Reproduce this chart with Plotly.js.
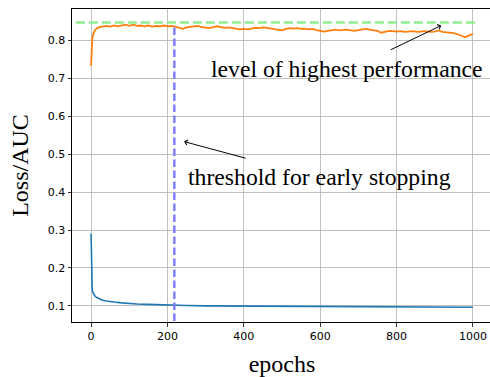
<!DOCTYPE html>
<html>
<head>
<meta charset="utf-8">
<script src="https://cdn.plot.ly/plotly-3.0.1.min.js"></script>
<style>
html,body{margin:0;padding:0;overflow:hidden;background:#fff;}
#chart{width:492px;height:377px;}
</style>
</head>
<body>
<div id="chart"></div>
<script>
// AUC (orange) readings
const aucEpochs = [0,1,2,3,5,7,10,15,20,30,40,50,60,70,80,90,100,110,120,130,140,150,160,170,180,190,200,210,220,230,240,250,260,270,280,290,300,310,320,330,340,350,360,370,380,390,400,410,420,430,440,450,460,470,480,490,500,510,520,530,540,550,560,570,580,590,600,610,620,630,640,650,660,670,680,690,700,710,720,730,740,750,760,770,780,790,800,810,820,830,840,850,860,870,880,890,900,910,920,930,940,950,960,970,980,990,1000];
const aucValues = [0.733,0.770,0.792,0.803,0.815,0.822,0.827,0.831,0.834,0.836,0.838,0.836,0.839,0.837,0.839,0.841,0.838,0.841,0.838,0.839,0.837,0.839,0.836,0.838,0.837,0.839,0.837,0.838,0.836,0.833,0.830,0.834,0.836,0.837,0.838,0.835,0.833,0.832,0.835,0.837,0.835,0.833,0.834,0.832,0.830,0.829,0.830,0.829,0.831,0.833,0.832,0.834,0.833,0.831,0.829,0.827,0.826,0.830,0.832,0.831,0.832,0.830,0.831,0.829,0.830,0.827,0.825,0.823,0.825,0.827,0.828,0.826,0.827,0.828,0.826,0.825,0.827,0.829,0.830,0.828,0.826,0.825,0.820,0.823,0.825,0.824,0.823,0.824,0.822,0.823,0.824,0.823,0.822,0.824,0.823,0.822,0.823,0.826,0.822,0.821,0.820,0.819,0.816,0.812,0.808,0.813,0.817];
// Loss (blue) readings
const lossEpochs = [0,1,2,3,5,8,10,15,20,30,40,50,60,80,100,120,150,200,250,300,400,500,600,700,800,900,1000];
const lossValues = [0.290,0.170,0.150,0.142,0.135,0.129,0.126,0.122,0.119,0.115,0.113,0.111,0.110,0.108,0.106,0.105,0.104,0.102,0.101,0.100,0.0995,0.099,0.0985,0.098,0.0975,0.097,0.0965];
// reference lines
const bestLevel = 0.847;
const bestSpan = [-40, 1008];
const stopEpoch = 218;
const stopSpan = [0.06, 0.84];
const xTicks = [0,200,400,600,800,1000];
const yTicks = [0.1,0.2,0.3,0.4,0.5,0.6,0.7,0.8];

const traces = [
  {x: lossEpochs, y: lossValues, mode:'lines', line:{color:'#1f77b4', width:1.6}, hoverinfo:'skip'},
  {x: aucEpochs, y: aucValues, mode:'lines', line:{color:'#ff7f0e', width:1.8}, hoverinfo:'skip'},
  {x: bestSpan, y: [bestLevel, bestLevel], mode:'lines', line:{color:'#90ee90', width:2.5, dash:'9px,4px'}, hoverinfo:'skip'},
  {x: [stopEpoch, stopEpoch], y: stopSpan, mode:'lines', line:{color:'#8080ff', width:2.5, dash:'7.5px,3.5px'}, hoverinfo:'skip'}
];

const serif = 'Liberation Serif, Times New Roman, serif';
const layout = {
  width: 492, height: 377,
  margin: {l:72, r:0, t:9, b:55},
  showlegend: false,
  paper_bgcolor:'#fff', plot_bgcolor:'#fff',
  xaxis: {
    range:[-50,1050], tickvals:xTicks, ticktext:xTicks.map(String),
    showgrid:true, gridcolor:'#b0b0b0', gridwidth:0.8, zeroline:false,
    showline:true, linecolor:'#000', linewidth:1, mirror:true,
    ticks:'outside', ticklen:3.5, tickwidth:0.8, tickcolor:'#000',
    tickfont:{family:'DejaVu Sans', size:11, color:'#000'},
    title:{text:'epochs', font:{family:serif, size:24, color:'#000'}, standoff:14}
  },
  yaxis: {
    range:[0.0575,0.8825], tickvals:yTicks, ticktext:yTicks.map(v=>v.toFixed(1)),
    showgrid:true, gridcolor:'#b0b0b0', gridwidth:0.8, zeroline:false,
    showline:true, linecolor:'#000', linewidth:1, mirror:true,
    ticks:'outside', ticklen:3.5, tickwidth:0.8, tickcolor:'#000',
    tickfont:{family:'DejaVu Sans', size:11, color:'#000'},
    title:{text:'Loss/AUC', font:{family:serif, size:24, color:'#000'}, standoff:12}
  },
  annotations: [
    {x:917, y:0.839, xref:'x', yref:'y', text:'', showarrow:true, arrowhead:4, arrowsize:1, arrowwidth:1, arrowcolor:'#000', ax:-52, ay:25},
    {x:243.6, y:0.533, xref:'x', yref:'y', text:'', showarrow:true, arrowhead:4, arrowsize:1, arrowwidth:1, arrowcolor:'#000', ax:63, ay:17},
    {x:309, y:0.724, xref:'x', yref:'y', xanchor:'left', yanchor:'middle', text:'level of highest performance', showarrow:false, font:{family:serif, size:23.7, color:'#000'}},
    {x:249, y:0.441, xref:'x', yref:'y', xanchor:'left', yanchor:'middle', text:'threshold for early stopping', showarrow:false, font:{family:serif, size:23.7, color:'#000'}}
  ]
};
Plotly.newPlot('chart', traces, layout, {displayModeBar:false, staticPlot:true});
</script>
</body>
</html>
